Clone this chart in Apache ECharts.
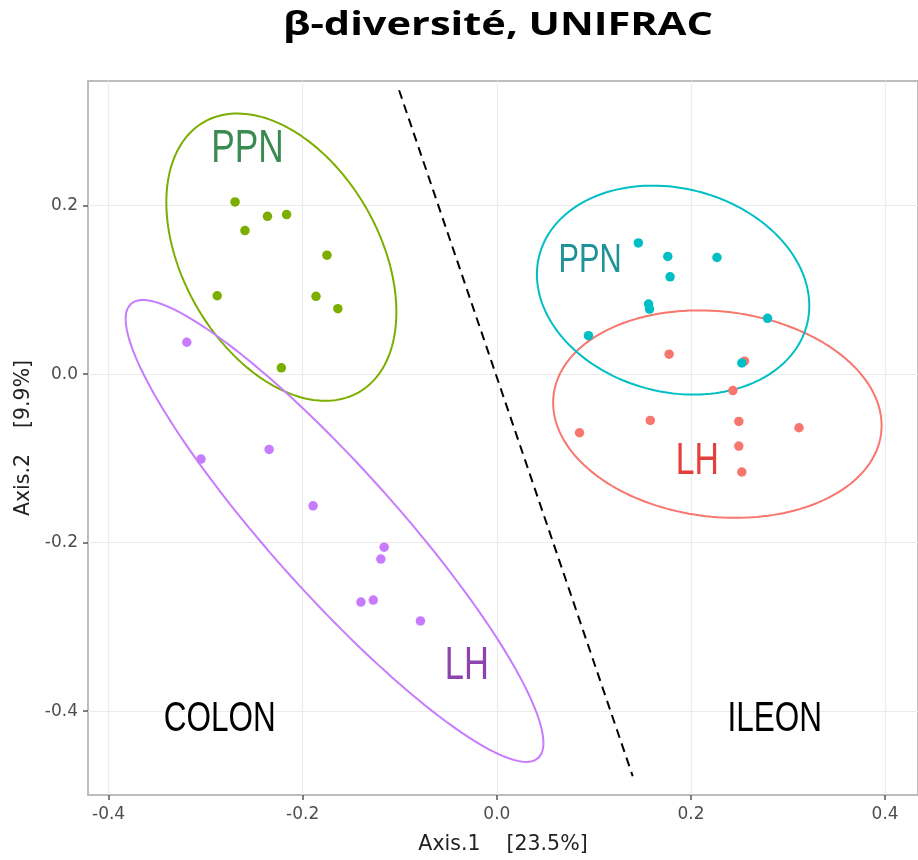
<!DOCTYPE html>
<html>
<head>
<meta charset="utf-8">
<script src="https://cdn.jsdelivr.net/npm/echarts@6/dist/echarts.min.js"></script>
<style>
html,body{margin:0;padding:0;background:#fff;}
#chart{width:918px;height:860px;}
</style>
</head>
<body>
<div id="chart"></div>
<script>
// ---- Data ----
const titleText = 'β-diversité, UNIFRAC';
const xAxisName = 'Axis.1    [23.5%]';
const yAxisName = 'Axis.2    [9.9%]';
const xTicks = [-0.4, -0.2, 0.0, 0.2, 0.4];
const yTicks = [-0.4, -0.2, 0.0, 0.2];

const colonPPN_x = [-0.2697, -0.2363, -0.2166, -0.2595, -0.1750, -0.2881, -0.1863, -0.1638, -0.2220];
const colonPPN_y = [0.2044, 0.1874, 0.1894, 0.1705, 0.1413, 0.0931, 0.0924, 0.0777, 0.0075];
const colonLH_x = [-0.3194, -0.2346, -0.3048, -0.1893, -0.1161, -0.1195, -0.1400, -0.1273, -0.0787];
const colonLH_y = [0.0379, -0.0893, -0.1007, -0.1563, -0.2053, -0.2195, -0.2705, -0.2681, -0.2929];
const ileonPPN_x = [0.1458, 0.1761, 0.2268, 0.1785, 0.1563, 0.1573, 0.2789, 0.0944, 0.2524];
const ileonPPN_y = [0.1558, 0.1397, 0.1385, 0.1156, 0.0832, 0.0773, 0.0663, 0.0457, 0.0134];
const ileonLH_x = [0.1775, 0.2551, 0.2432, 0.1581, 0.2493, 0.3113, 0.0852, 0.2493, 0.2524];
const ileonLH_y = [0.0237, 0.0154, -0.0194, -0.0549, -0.0561, -0.0636, -0.0695, -0.0853, -0.1161];

// confidence ellipses: centre, half extents along x / y, correlation (data units)
const ellCx = [-0.2220, -0.1672, 0.1816, 0.2272];
const ellCy = [0.1389, -0.1861, 0.0998, -0.0474];
const ellHx = [0.1185, 0.2152, 0.1403, 0.1692];
const ellHy = [0.1705, 0.2741, 0.1240, 0.1231];
const ellR  = [-0.382, -0.918, -0.150, -0.110];

// dashed separator
const dividerX = [-0.1007, 0.1400];
const dividerY = [0.3370, -0.4772];

// text annotations (data coordinates)
const annText = ['PPN', 'LH', 'PPN', 'LH', 'COLON', 'ILEON'];
const annX = [-0.2569, -0.0310, 0.0962, 0.2066, -0.2855, 0.2863];
const annY = [0.2668, -0.3472, 0.1353, -0.1039, -0.4099, -0.4099];

// ---- Styles ----
const groupColors = ['#7CAE00', '#C77CFF', '#00BFC4', '#F8766D'];
const annColors = ['#3A8A52', '#8E44AD', '#1F9199', '#E2403A', '#000000', '#000000'];
const annSizes = [47, 46, 41, 45, 42, 42];
const annFont = '"Liberation Sans", Arial, sans-serif';
const annScaleX = 0.75;

const xs = [colonPPN_x, colonLH_x, ileonPPN_x, ileonLH_x];
const ys = [colonPPN_y, colonLH_y, ileonPPN_y, ileonLH_y];

function zip(a, b) { return a.map((v, i) => [v, b[i]]); }
function ellipse(i) {
  const pts = [];
  const s = Math.sqrt(1 - ellR[i] * ellR[i]);
  const n = 180;
  for (let k = 0; k <= n; k++) {
    const t = 2 * Math.PI * k / n;
    pts.push([ellCx[i] + ellHx[i] * Math.cos(t),
              ellCy[i] + ellHy[i] * (ellR[i] * Math.cos(t) + s * Math.sin(t))]);
  }
  return pts;
}

const series = [];
[0, 1, 3, 2].forEach(i => {
  series.push({
    type: 'line', data: ellipse(i), showSymbol: false, symbol: 'none',
    lineStyle: { color: groupColors[i], width: 2 }, silent: true, z: 2, animation: false
  });
});
[1, 0, 3, 2].forEach(i => {
  series.push({
    type: 'scatter', data: zip(xs[i], ys[i]), symbolSize: 9.5,
    itemStyle: { color: groupColors[i], opacity: 1 }, z: 3, animation: false
  });
});
series.push({
  type: 'line', data: zip(dividerX, dividerY), showSymbol: false, symbol: 'none',
  lineStyle: { color: '#000', width: 2, type: [9, 6] }, z: 4, animation: false
});

const chart = echarts.init(document.getElementById('chart'), null, { renderer: 'canvas' });
const axisFont = '"DejaVu Sans", Verdana, sans-serif';
chart.setOption({
  backgroundColor: '#ffffff',
  animation: false,
  grid: {
    left: 88, top: 81, right: -7, bottom: 63, show: true,
    borderColor: '#bdbdbd', borderWidth: 2, backgroundColor: 'transparent'
  },
  xAxis: {
    type: 'value', min: -0.4212, max: 0.4339,
    name: xAxisName, nameLocation: 'middle', nameGap: 39,
    nameTextStyle: { fontFamily: axisFont, fontSize: 20.5, color: '#222' },
    axisLine: { show: false, onZero: false },
    axisTick: { show: true, length: 5, customValues: xTicks, lineStyle: { color: '#555', width: 1.5 } },
    axisLabel: { customValues: xTicks, margin: 11, fontFamily: axisFont, fontSize: 17, color: '#4d4d4d',
      formatter: v => v.toFixed(1) },
    splitLine: { show: true, lineStyle: { color: '#ebebeb', width: 1.2 } }
  },
  yAxis: {
    type: 'value', min: -0.4995, max: 0.348,
    name: yAxisName, nameLocation: 'middle', nameGap: 52,
    nameTextStyle: { fontFamily: axisFont, fontSize: 20.5, color: '#222' },
    axisLine: { show: false, onZero: false },
    axisTick: { show: true, length: 5, customValues: yTicks, lineStyle: { color: '#555', width: 1.5 } },
    axisLabel: { customValues: yTicks, margin: 10, fontFamily: axisFont, fontSize: 17, color: '#4d4d4d',
      formatter: v => v.toFixed(1) },
    splitLine: { show: true, lineStyle: { color: '#ebebeb', width: 1.2 } }
  },
  series: series
});

// title (heavy face, stretched to the reference width)
const titleFont = 'bold 32px "Open Sans", Lato, sans-serif';
const ctx = document.createElement('canvas').getContext('2d');
ctx.font = titleFont;
const titleScale = 430 / ctx.measureText(titleText).width;

const graphics = [{
  type: 'text', x: 498, y: 26, scaleX: titleScale, z: 10,
  style: { text: titleText, x: 0, y: 0, align: 'center', verticalAlign: 'middle',
    font: titleFont, fill: '#000' }
}];
annText.forEach((t, i) => {
  const p = chart.convertToPixel({ gridIndex: 0 }, [annX[i], annY[i]]);
  graphics.push({
    type: 'text', x: p[0], y: p[1], scaleX: annScaleX, z: 10, silent: true,
    style: { text: t, x: 0, y: 0, align: 'center', verticalAlign: 'middle',
      font: annSizes[i] + 'px ' + annFont, fill: annColors[i] }
  });
});
chart.setOption({ graphic: graphics });
</script>
</body>
</html>
